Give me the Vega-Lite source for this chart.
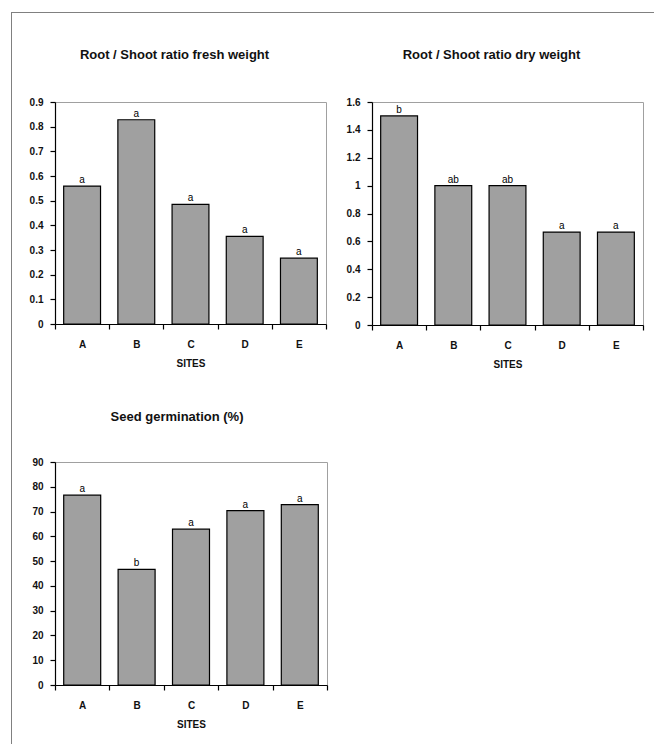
{
  "$schema": "https://vega.github.io/schema/vega-lite/v6.json",
  "padding": {"left": 11, "top": 12, "right": 0, "bottom": 0},
  "background": "white",
  "spacing": -44,
  "config": {
    "view": {"stroke": "#a0a0a0", "strokeWidth": 1},
    "font": "Liberation Sans",
    "axis": {
      "labelFont": "Liberation Sans",
      "labelFontWeight": "bold",
      "labelFontSize": 10,
      "labelColor": "#111111",
      "domainColor": "#000000",
      "domainWidth": 1.2,
      "tickColor": "#000000",
      "tickWidth": 1.2,
      "tickSize": 5,
      "grid": false,
      "titleFont": "Liberation Sans",
      "titleFontWeight": "bold",
      "titleFontSize": 10,
      "titleColor": "#111111"
    },
    "axisX": {"labelAngle": 0, "tickBand": "extent", "labelPadding": 10, "titlePadding": 9},
    "axisY": {"labelPadding": 7},
    "title": {"font": "Liberation Sans", "fontSize": 13, "fontWeight": "bold", "color": "#111111", "frame": "group", "anchor": "middle"}
  },
  "hconcat": [
    {
      "spacing": 0,
      "vconcat": [
        {
          "width": 44, "height": 1,
          "data": {"values": []},
          "mark": "text",
          "view": {"stroke": null, "fill": "#808080"}
        },
        {
          "width": 1, "height": 731,
          "data": {"values": []},
          "mark": "text",
          "view": {"stroke": null, "fill": "#808080"}
        }
      ]
    },
    {
      "spacing": 0,
      "vconcat": [
        {
          "width": 602, "height": 1,
          "data": {"values": []},
          "mark": "text",
          "view": {"stroke": null, "fill": "#808080"}
        },
        {
          "spacing": 34,
          "vconcat": [
            {
              "width": 1, "height": 0.01,
              "data": {"values": []},
              "mark": "text",
              "view": {"stroke": null}
            },
            {
              "spacing": 40,
              "vconcat": [
                {
                  "spacing": 13,
                  "hconcat": [
                    {
                      "width": 271, "height": 222,
                      "title": {"text": "Root / Shoot ratio fresh weight", "offset": 35, "dx": -16},
                      "data": {"values": [
                        {"site": "A", "value": 0.559, "letter": "a"},
                        {"site": "B", "value": 0.828, "letter": "a"},
                        {"site": "C", "value": 0.485, "letter": "a"},
                        {"site": "D", "value": 0.355, "letter": "a"},
                        {"site": "E", "value": 0.267, "letter": "a"}
                      ]},
                      "encoding": {
                        "x": {"field": "site", "type": "nominal", "scale": {"paddingInner": 0, "paddingOuter": 0}, "axis": {"title": "SITES"}},
                        "y": {"field": "value", "type": "quantitative", "scale": {"domain": [0, 0.9], "nice": false}, "axis": {"title": null, "format": ".1~f", "values": [0, 0.1, 0.2, 0.3, 0.4, 0.5, 0.6, 0.7, 0.8, 0.9], "minExtent": 37}}
                      },
                      "layer": [
                        {"mark": {"type": "bar", "width": {"band": 0.68}, "fill": "#a0a0a0", "stroke": "#000000", "strokeWidth": 1.2}},
                        {"mark": {"type": "text", "baseline": "alphabetic", "dy": -3, "fontSize": 10, "color": "#000000"}, "encoding": {"text": {"field": "letter"}}}
                      ]
                    },
                    {
                      "width": 271, "height": 223,
                      "title": {"text": "Root / Shoot ratio dry weight", "offset": 35, "dx": -16},
                      "data": {"values": [
                        {"site": "A", "value": 1.5, "letter": "b"},
                        {"site": "B", "value": 1.0, "letter": "ab"},
                        {"site": "C", "value": 1.0, "letter": "ab"},
                        {"site": "D", "value": 0.667, "letter": "a"},
                        {"site": "E", "value": 0.667, "letter": "a"}
                      ]},
                      "encoding": {
                        "x": {"field": "site", "type": "nominal", "scale": {"paddingInner": 0, "paddingOuter": 0}, "axis": {"title": "SITES"}},
                        "y": {"field": "value", "type": "quantitative", "scale": {"domain": [0, 1.6], "nice": false}, "axis": {"title": null, "format": ".1~f", "values": [0, 0.2, 0.4, 0.6, 0.8, 1, 1.2, 1.4, 1.6], "minExtent": 30}}
                      },
                      "layer": [
                        {"mark": {"type": "bar", "width": {"band": 0.68}, "fill": "#a0a0a0", "stroke": "#000000", "strokeWidth": 1.2}},
                        {"mark": {"type": "text", "baseline": "alphabetic", "dy": -3, "fontSize": 10, "color": "#000000"}, "encoding": {"text": {"field": "letter"}}}
                      ]
                    }
                  ]
                },
                {
                  "width": 272, "height": 223,
                  "title": {"text": "Seed germination (%)", "offset": 33, "dx": -14},
                  "data": {"values": [
                    {"site": "A", "value": 76.6, "letter": "a"},
                    {"site": "B", "value": 46.7, "letter": "b"},
                    {"site": "C", "value": 62.9, "letter": "a"},
                    {"site": "D", "value": 70.4, "letter": "a"},
                    {"site": "E", "value": 72.8, "letter": "a"}
                  ]},
                  "encoding": {
                    "x": {"field": "site", "type": "nominal", "scale": {"paddingInner": 0, "paddingOuter": 0}, "axis": {"title": "SITES"}},
                    "y": {"field": "value", "type": "quantitative", "scale": {"domain": [0, 90], "nice": false}, "axis": {"title": null, "format": "d", "values": [0, 10, 20, 30, 40, 50, 60, 70, 80, 90], "minExtent": 34}}
                  },
                  "layer": [
                    {"mark": {"type": "bar", "width": {"band": 0.68}, "fill": "#a0a0a0", "stroke": "#000000", "strokeWidth": 1.2}},
                    {"mark": {"type": "text", "baseline": "alphabetic", "dy": -3, "fontSize": 10, "color": "#000000"}, "encoding": {"text": {"field": "letter"}}}
                  ]
                }
              ]
            }
          ]
        }
      ]
    }
  ]
}
